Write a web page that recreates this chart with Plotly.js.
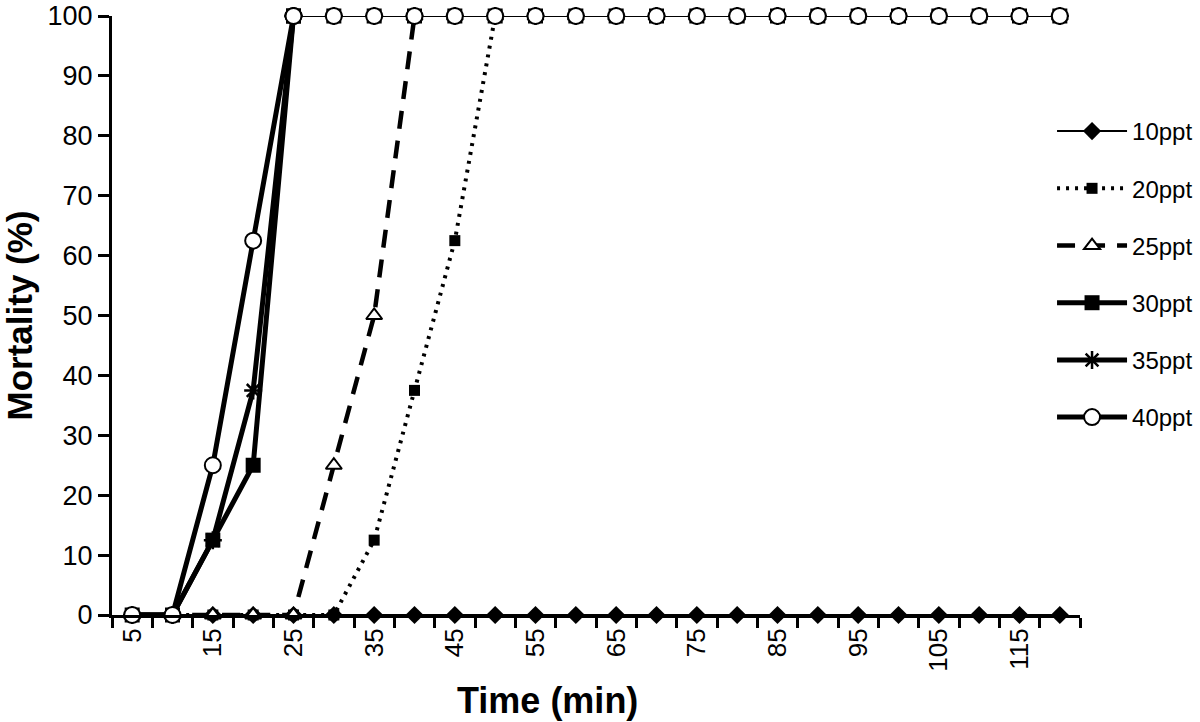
<!DOCTYPE html>
<html>
<head>
<meta charset="utf-8">
<script src="https://cdn.plot.ly/plotly-3.0.1.min.js"></script>
<style>html,body{margin:0;padding:0;background:#fff;}#chart{width:1200px;height:722px;}</style>
</head>
<body>
<div id="chart"></div>
<script>
// Time (min)
var times = [5,10,15,20,25,30,35,40,45,50,55,60,65,70,75,80,85,90,95,100,105,110,115,120];
// Mortality (%)
var m10 = [0,0,0,0,0,0,0,0,0,0,0,0,0,0,0,0,0,0,0,0,0,0,0,0];
var m20 = [0,0,0,0,0,0,12.5,37.5,62.5,100,100,100,100,100,100,100,100,100,100,100,100,100,100,100];
var m25 = [0,0,0,0,0,25,50,100,100,100,100,100,100,100,100,100,100,100,100,100,100,100,100,100];
var m30 = [0,0,12.5,25,100,100,100,100,100,100,100,100,100,100,100,100,100,100,100,100,100,100,100,100];
var m35 = [0,0,12.5,37.5,100,100,100,100,100,100,100,100,100,100,100,100,100,100,100,100,100,100,100,100];
var m40 = [0,0,25,62.5,100,100,100,100,100,100,100,100,100,100,100,100,100,100,100,100,100,100,100,100];
var seriesNames = ['10ppt','20ppt','25ppt','30ppt','35ppt','40ppt'];
var xTickLabels = ['5','15','25','35','45','55','65','75','85','95','105','115'];

var seriesData = [m10, m20, m25, m30, m35, m40];
var styles = [
  {line:{color:'#000',width:2,dash:'solid'}, marker:{symbol:'diamond',size:14,color:'#000',line:{width:0}}},
  {line:{color:'#000',width:4,dash:'3px,6px'}, marker:{symbol:'square',size:11,color:'#000',line:{width:0}}},
  {line:{color:'#000',width:4.5,dash:'18px,12px'}, marker:{symbol:'triangle-up',size:14,color:'#fff',line:{color:'#000',width:2}}},
  {line:{color:'#000',width:5,dash:'solid'}, marker:{symbol:'square',size:15,color:'#000',line:{width:0}}},
  {line:{color:'#000',width:5,dash:'solid'}, marker:{symbol:'asterisk-open',size:15,color:'#000',line:{color:'#000',width:2.5}}},
  {line:{color:'#000',width:5,dash:'solid'}, marker:{symbol:'circle',size:16,color:'#fff',line:{color:'#000',width:2}}}
];

var rise = [], plateau = [];
for (var i = 0; i < seriesData.length; i++) {
  var ys = seriesData[i];
  var k = ys.indexOf(100);
  var end = (k < 0) ? ys.length : k + 1;
  rise.push({
    x: times.slice(0, end), y: ys.slice(0, end),
    type: 'scatter', mode: 'lines+markers', name: seriesNames[i],
    legendgroup: seriesNames[i], line: styles[i].line, marker: styles[i].marker,
    cliponaxis: false
  });
  if (k >= 0) {
    plateau.push({
      x: times.slice(k), y: ys.slice(k),
      type: 'scatter', mode: 'lines+markers', name: seriesNames[i],
      legendgroup: seriesNames[i], showlegend: false,
      line: {color:'#000', width:2}, marker: styles[i].marker,
      cliponaxis: false
    });
  }
}
var traces = rise.concat(plateau);

var layout = {
  width: 1200, height: 722,
  margin: {l:112, r:120, t:16, b:107, autoexpand: false},
  paper_bgcolor: '#fff', plot_bgcolor: '#fff',
  font: {family: '"Liberation Sans", Arial, sans-serif', color: '#000'},
  showlegend: true,
  legend: {
    xref: 'container', yref: 'container',
    x: 0.8767, xanchor: 'left', y: 0.849, yanchor: 'top',
    bgcolor: 'rgba(0,0,0,0)', font: {size: 24, color:'#000'},
    traceorder: 'grouped', tracegroupgap: 23, itemwidth: 70
  },
  xaxis: {
    range: [2.5, 122.5], showgrid: false, zeroline: false,
    showline: true, linecolor: '#000', linewidth: 3,
    tickmode: 'array', tickvals: xTickLabels.map(Number), ticktext: xTickLabels,
    ticks: '', tickangle: -90, tickfont: {size: 26, color:'#000'},
    minor: {tick0: 2.5, dtick: 5, ticks: 'outside', ticklen: 10, tickwidth: 3, tickcolor: '#000', showgrid:false}
  },
  yaxis: {
    range: [0, 100], showgrid: false, zeroline: false,
    showline: true, linecolor: '#000', linewidth: 3,
    tickmode: 'linear', tick0: 0, dtick: 10,
    ticks: 'outside', ticklen: 11, tickwidth: 3, tickcolor: '#000',
    tickfont: {size: 27, color:'#000'},
    title: {text: 'Mortality (%)', font: {size: 35, color:'#000', weight: 'bold'}, standoff: 12}
  },
  annotations: [{
    text: '<b>Time (min)</b>', xref: 'paper', yref: 'paper',
    x: 0.45, y: -0.142, xanchor: 'center', yanchor: 'middle',
    showarrow: false, font: {size: 36, color: '#000'}
  }]
};

Plotly.newPlot('chart', traces, layout, {displayModeBar: false, staticPlot: true});
</script>
</body>
</html>
